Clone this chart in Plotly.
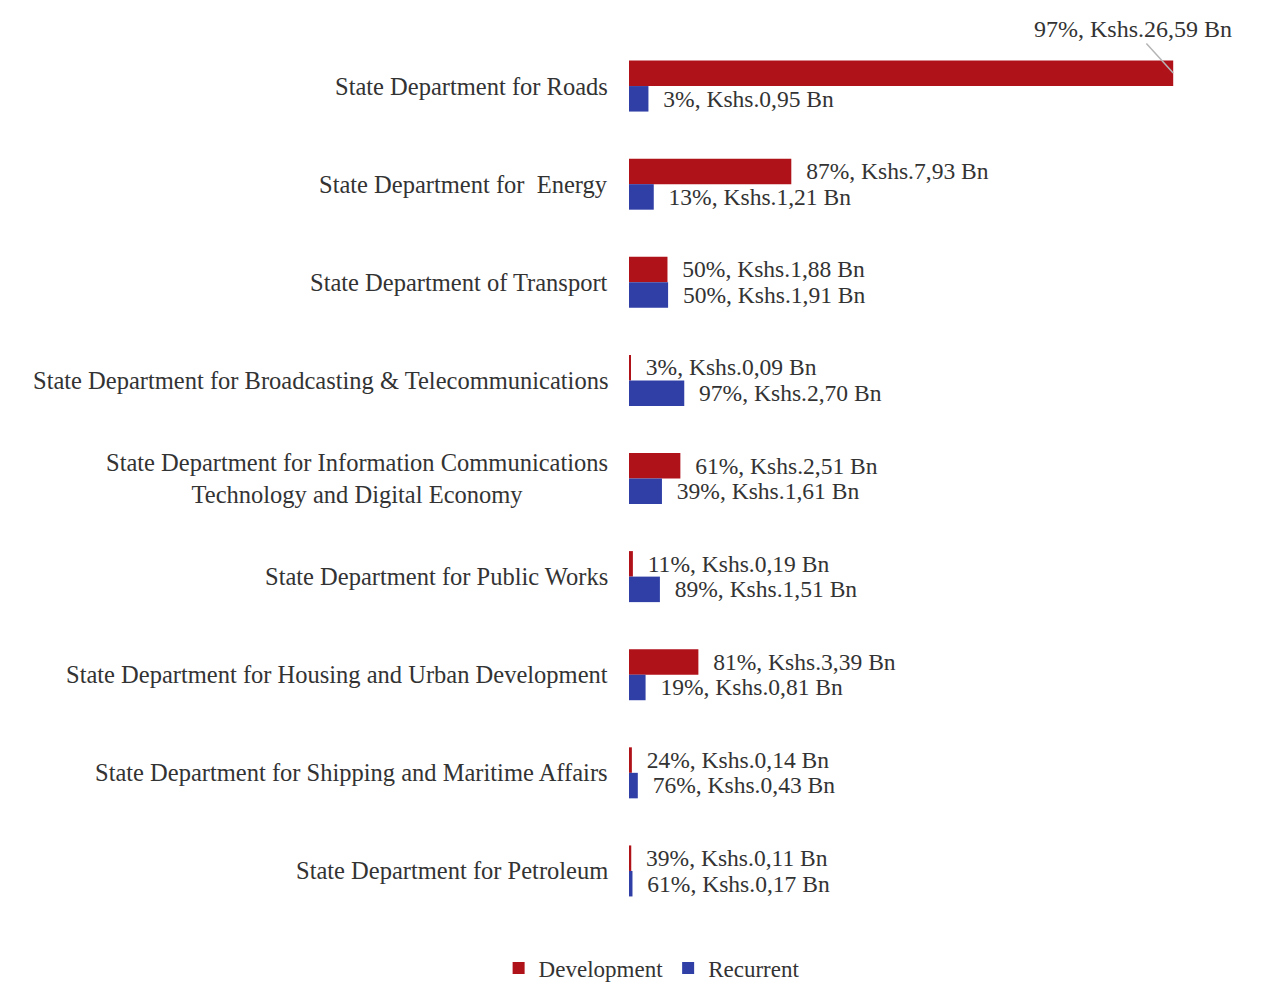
import plotly.graph_objects as go

categories = [
    "State Department for Roads",
    "State Department for  Energy",
    "State Department of Transport",
    "State Department for Broadcasting & Telecommunications",
    "State Department for Information Communications<br>Technology and Digital Economy",
    "State Department for Public Works",
    "State Department for Housing and Urban Development",
    "State Department for Shipping and Maritime Affairs",
    "State Department for Petroleum",
]
dev_values = [26.59, 7.93, 1.88, 0.09, 2.51, 0.19, 3.39, 0.14, 0.11]
dev_pct = [97, 87, 50, 3, 61, 11, 81, 24, 39]
rec_values = [0.95, 1.21, 1.91, 2.70, 1.61, 1.51, 0.81, 0.43, 0.17]
rec_pct = [3, 13, 50, 97, 39, 89, 19, 76, 61]

DEV_COLOR = "#b0121a"
REC_COLOR = "#2f3fa6"
FONT = "Liberation Serif"
TXT = "#333333"


def label(p, v):
    s = f"{v:.2f}".replace(".", ",")
    return f"{p}%, Kshs.{s} Bn"


dev_text = [label(p, v) for p, v in zip(dev_pct, dev_values)]
rec_text = [label(p, v) for p, v in zip(rec_pct, rec_values)]

# The largest bar's label is placed above with a leader line
roads_dev_label = dev_text[0]
dev_text_bars = [""] + ["\u00a0\u00a0" + t for t in dev_text[1:]]
rec_text_bars = ["\u00a0\u00a0" + t for t in rec_text]

fig = go.Figure()
fig.add_trace(go.Bar(
    y=categories, x=dev_values, orientation="h", name="Development",
    marker=dict(color=DEV_COLOR, line=dict(width=0)),
    text=dev_text_bars, textposition="outside", cliponaxis=False,
    textfont=dict(family=FONT, size=24, color=TXT),
))
fig.add_trace(go.Bar(
    y=categories, x=rec_values, orientation="h", name="Recurrent",
    marker=dict(color=REC_COLOR, line=dict(width=0)),
    text=rec_text_bars, textposition="outside", cliponaxis=False,
    textfont=dict(family=FONT, size=24, color=TXT),
))

annotations = []
for c in categories:
    annotations.append(dict(
        x=0, xref="paper", y=c, yref="y", xanchor="right", yanchor="middle",
        xshift=-19, text=c, showarrow=False, align="center",
        font=dict(family=FONT, size=24.5, color=TXT),
    ))

annotations.append(dict(
    x=dev_values[0], y=categories[0], xref="x", yref="y", yshift=13,
    text=roads_dev_label, showarrow=True, arrowhead=0, arrowwidth=1.5,
    arrowcolor="#b5b5b5", ax=-40, ay=-44, standoff=0,
    font=dict(family=FONT, size=24, color=TXT),
))

fig.update_layout(
    width=1262, height=977,
    margin=dict(l=621, r=27, t=29, b=65),
    paper_bgcolor="white", plot_bgcolor="white",
    barmode="group", bargap=0.48, bargroupgap=0.0,
    showlegend=True,
    legend=dict(
        orientation="h", xref="container", yref="container",
        x=0.51, xanchor="center", y=0.0174, yanchor="middle",
        font=dict(family=FONT, size=23, color=TXT),
        itemwidth=30, traceorder="normal",
    ),
    xaxis=dict(range=[0, 30], showgrid=False, zeroline=False,
               showticklabels=False, showline=False, ticks=""),
    yaxis=dict(autorange="reversed", showgrid=False, zeroline=False,
               showticklabels=False, showline=False, ticks=""),
    annotations=annotations,
)

fig.write_html("out.html")
